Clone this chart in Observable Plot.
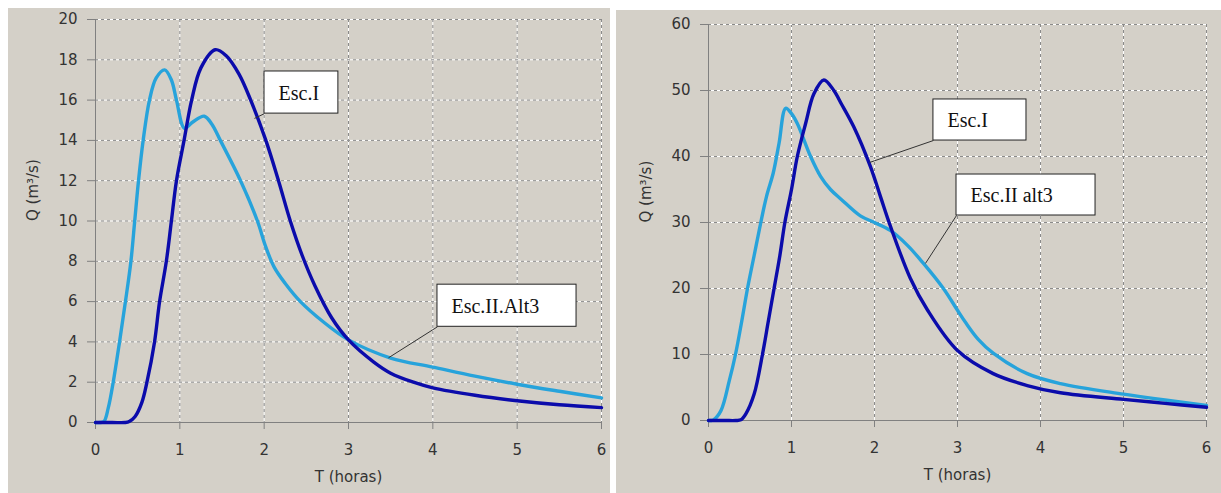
<!DOCTYPE html>
<html><head><meta charset="utf-8">
<script src="https://cdn.jsdelivr.net/npm/d3@7"></script>
<script src="https://cdn.jsdelivr.net/npm/@observablehq/plot@0.6"></script>
<style>
body{margin:0;background:#fff;width:1221px;height:493px;position:relative;overflow:hidden}
.panel{position:absolute;background:#d4d0c8}
#left{left:8px;top:8px;width:602px;height:485px}
#right{left:616px;top:10px;width:605px;height:483px}
.panel svg{display:block}
</style></head><body>
<div id="left" class="panel"></div><div id="right" class="panel"></div>
<script>
// ---- Left chart data ----
const T_L1 = [0,0.2,0.35,0.4,0.47,0.55,0.61,0.7,0.76,0.84,0.9,0.96,1.05,1.14,1.25,1.42,1.55,1.7,1.84,2.02,2.17,2.31,2.45,2.6,2.8,3,3.3,3.5,3.77,4,4.5,5,5.5,6];
const Q_L1 = [0,0,0,0.05,0.3,1,2,4,6,8,10,12,14,16,17.6,18.5,18.2,17.3,16,14,12,10,8.3,6.8,5.2,4.1,3.0,2.45,2,1.72,1.35,1.08,0.88,0.74];
const T_L2 = [0,0.05,0.1,0.15,0.21,0.285,0.355,0.42,0.465,0.51,0.565,0.64,0.72,0.82,0.9,0.96,1.055,1.15,1.29,1.38,1.48,1.72,1.92,2.02,2.12,2.25,2.43,2.7,3,3.5,4,4.5,5,5.5,6];
const Q_L2 = [0,0,0.05,0.7,2,4,6,8,10,12,14,16,17.1,17.5,17,16,14.6,14.9,15.2,14.8,14,12,10,8.7,7.7,6.9,6.0,5.0,4.1,3.2,2.75,2.3,1.9,1.55,1.22];
const X_TICKS = [0,1,2,3,4,5,6];
const Y_TICKS_L = [0,2,4,6,8,10,12,14,16,18,20];
const NOTE_L_TEXT = ["Esc.I","Esc.II.Alt3"];
const NOTE_L_X1 = [2.004, 4.055], NOTE_L_X2 = [2.88, 5.704];
const NOTE_L_TOP = [17.42, 6.84], NOTE_L_BOT = [15.33, 4.75];
const NOTE_L_TX = [1.885, 3.474], NOTE_L_TY = [15.09, 3.21];

// ---- Right chart data ----
const T_R1 = [0,0.2,0.33,0.39,0.45,0.55,0.65,0.72,0.79,0.86,0.92,1.0,1.07,1.17,1.27,1.39,1.51,1.6,1.75,1.95,2.07,2.19,2.43,2.64,3,3.43,3.84,4.24,5,5.5,6];
const Q_R1 = [0,0,0,0.1,1,4,10,15,20,25,30,35,40,45,49.5,51.6,50,48,44.5,38.5,34,29.5,21.6,16.7,10.6,7.1,5.3,4.2,3.2,2.6,2.0];
const T_R2 = [0,0.03,0.06,0.15,0.25,0.325,0.4,0.47,0.55,0.63,0.7,0.78,0.85,0.93,1.0,1.07,1.23,1.35,1.47,1.6,1.83,2.0,2.19,2.4,2.59,2.83,3.0,3.1,3.25,3.43,3.84,4.24,5,5.5,6];
const Q_R2 = [0,0,0.1,1.5,6,10,15,20,25,30,34,37.5,42,47.3,46.5,45,40,37,35,33.5,31,30,28.8,26.5,23.8,20,16.7,14.8,12.3,10.2,7.1,5.6,4.0,3.1,2.3];
const Y_TICKS_R = [0,10,20,30,40,50,60];
const NOTE_R_TEXT = ["Esc.I","Esc.II alt3"];
const NOTE_R_X1 = [2.71, 2.988], NOTE_R_X2 = [3.831, 4.663];
const NOTE_R_TOP = [48.64, 37.27], NOTE_R_BOT = [42.42, 31.06];
const NOTE_R_TX = [1.94, 2.614], NOTE_R_TY = [39.09, 23.8];

const X_LABEL = "T (horas)";
const Y_LABEL = "Q (m³/s)";
const DARK = "#0b0bab", LIGHT = "#27a3db";

function series(T, Q) { return T.map((t, i) => ({t, q: Q[i]})); }
function notes(text, x1, x2, top, bot, tx, ty) {
  return text.map((s, i) => ({s, x1: x1[i], x2: x2[i], top: top[i], bot: bot[i], tx: tx[i], ty: ty[i]}));
}

function panel(o) {
  const grid = "#8a8a8a";
  const xg = X_TICKS.slice(1), yg = o.yTicks.slice(1);
  return Plot.plot({
    width: o.width, height: o.height,
    marginLeft: o.ml, marginRight: o.mr, marginTop: o.mt, marginBottom: o.mb,
    style: {background: "none", overflow: "visible", fontFamily: "DejaVu Sans", fontSize: "15px", color: "#333"},
    x: {domain: [0, 6]},
    y: {domain: [0, o.yMax]},
    marks: [
      Plot.ruleX(xg, {stroke: "white", strokeWidth: 1}),
      Plot.ruleX(xg, {stroke: grid, strokeWidth: 1, strokeDasharray: "3,3"}),
      Plot.ruleY(yg, {stroke: "white", strokeWidth: 1}),
      Plot.ruleY(yg, {stroke: grid, strokeWidth: 1, strokeDasharray: "3,3"}),
      Plot.axisX({ticks: X_TICKS, tickSize: 7, tickPadding: 15, tickFormat: d => String(d), stroke: "#808080", fill: "#333", label: null, fontSize: 15}),
      Plot.axisY({ticks: o.yTicks, tickSize: 8, tickPadding: 10, tickFormat: d => String(d), stroke: "#808080", fill: "#333", label: null, fontSize: 15}),
      Plot.ruleX([0], {stroke: "#808080", y1: 0, y2: o.yMax}),
      Plot.ruleY([0], {stroke: "#808080", x1: 0, x2: 6}),
      Plot.line(o.s2, {x: "t", y: "q", stroke: LIGHT, strokeWidth: 3.4, curve: "catmull-rom"}),
      Plot.line(o.s1, {x: "t", y: "q", stroke: DARK, strokeWidth: 3.4, curve: "catmull-rom"}),
      Plot.link(o.notes, {x1: "x1", y1: "bot", x2: "tx", y2: "ty", stroke: "#333", strokeWidth: 1}),
      Plot.rect(o.notes, {x1: "x1", x2: "x2", y1: "bot", y2: "top", fill: "white", stroke: "#222", strokeWidth: 1}),
      Plot.text(o.notes, {x: "x1", y: d => (d.top + d.bot) / 2, text: "s", dx: 14, dy: 1, textAnchor: "start", lineAnchor: "middle", fontFamily: "Liberation Serif", fontSize: 20, fill: "#111"}),
      Plot.text([X_LABEL], {frameAnchor: "bottom", dy: 55, lineAnchor: "middle", fontFamily: "DejaVu Sans", fontSize: 15, fill: "#333"}),
      Plot.text([Y_LABEL], {frameAnchor: "left", dx: -62, rotate: -90, lineAnchor: "middle", fontFamily: "DejaVu Sans", fontSize: 15, fill: "#333"})
    ]
  });
}

document.getElementById("left").append(panel({
  width: 602, height: 485, ml: 87, mr: 9, mt: 11, mb: 71,
  yMax: 20, yTicks: Y_TICKS_L,
  s1: series(T_L1, Q_L1), s2: series(T_L2, Q_L2),
  notes: notes(NOTE_L_TEXT, NOTE_L_X1, NOTE_L_X2, NOTE_L_TOP, NOTE_L_BOT, NOTE_L_TX, NOTE_L_TY)
}));
document.getElementById("right").append(panel({
  width: 605, height: 483, ml: 92, mr: 15, mt: 14, mb: 73,
  yMax: 60, yTicks: Y_TICKS_R,
  s1: series(T_R1, Q_R1), s2: series(T_R2, Q_R2),
  notes: notes(NOTE_R_TEXT, NOTE_R_X1, NOTE_R_X2, NOTE_R_TOP, NOTE_R_BOT, NOTE_R_TX, NOTE_R_TY)
}));
</script></body></html>
